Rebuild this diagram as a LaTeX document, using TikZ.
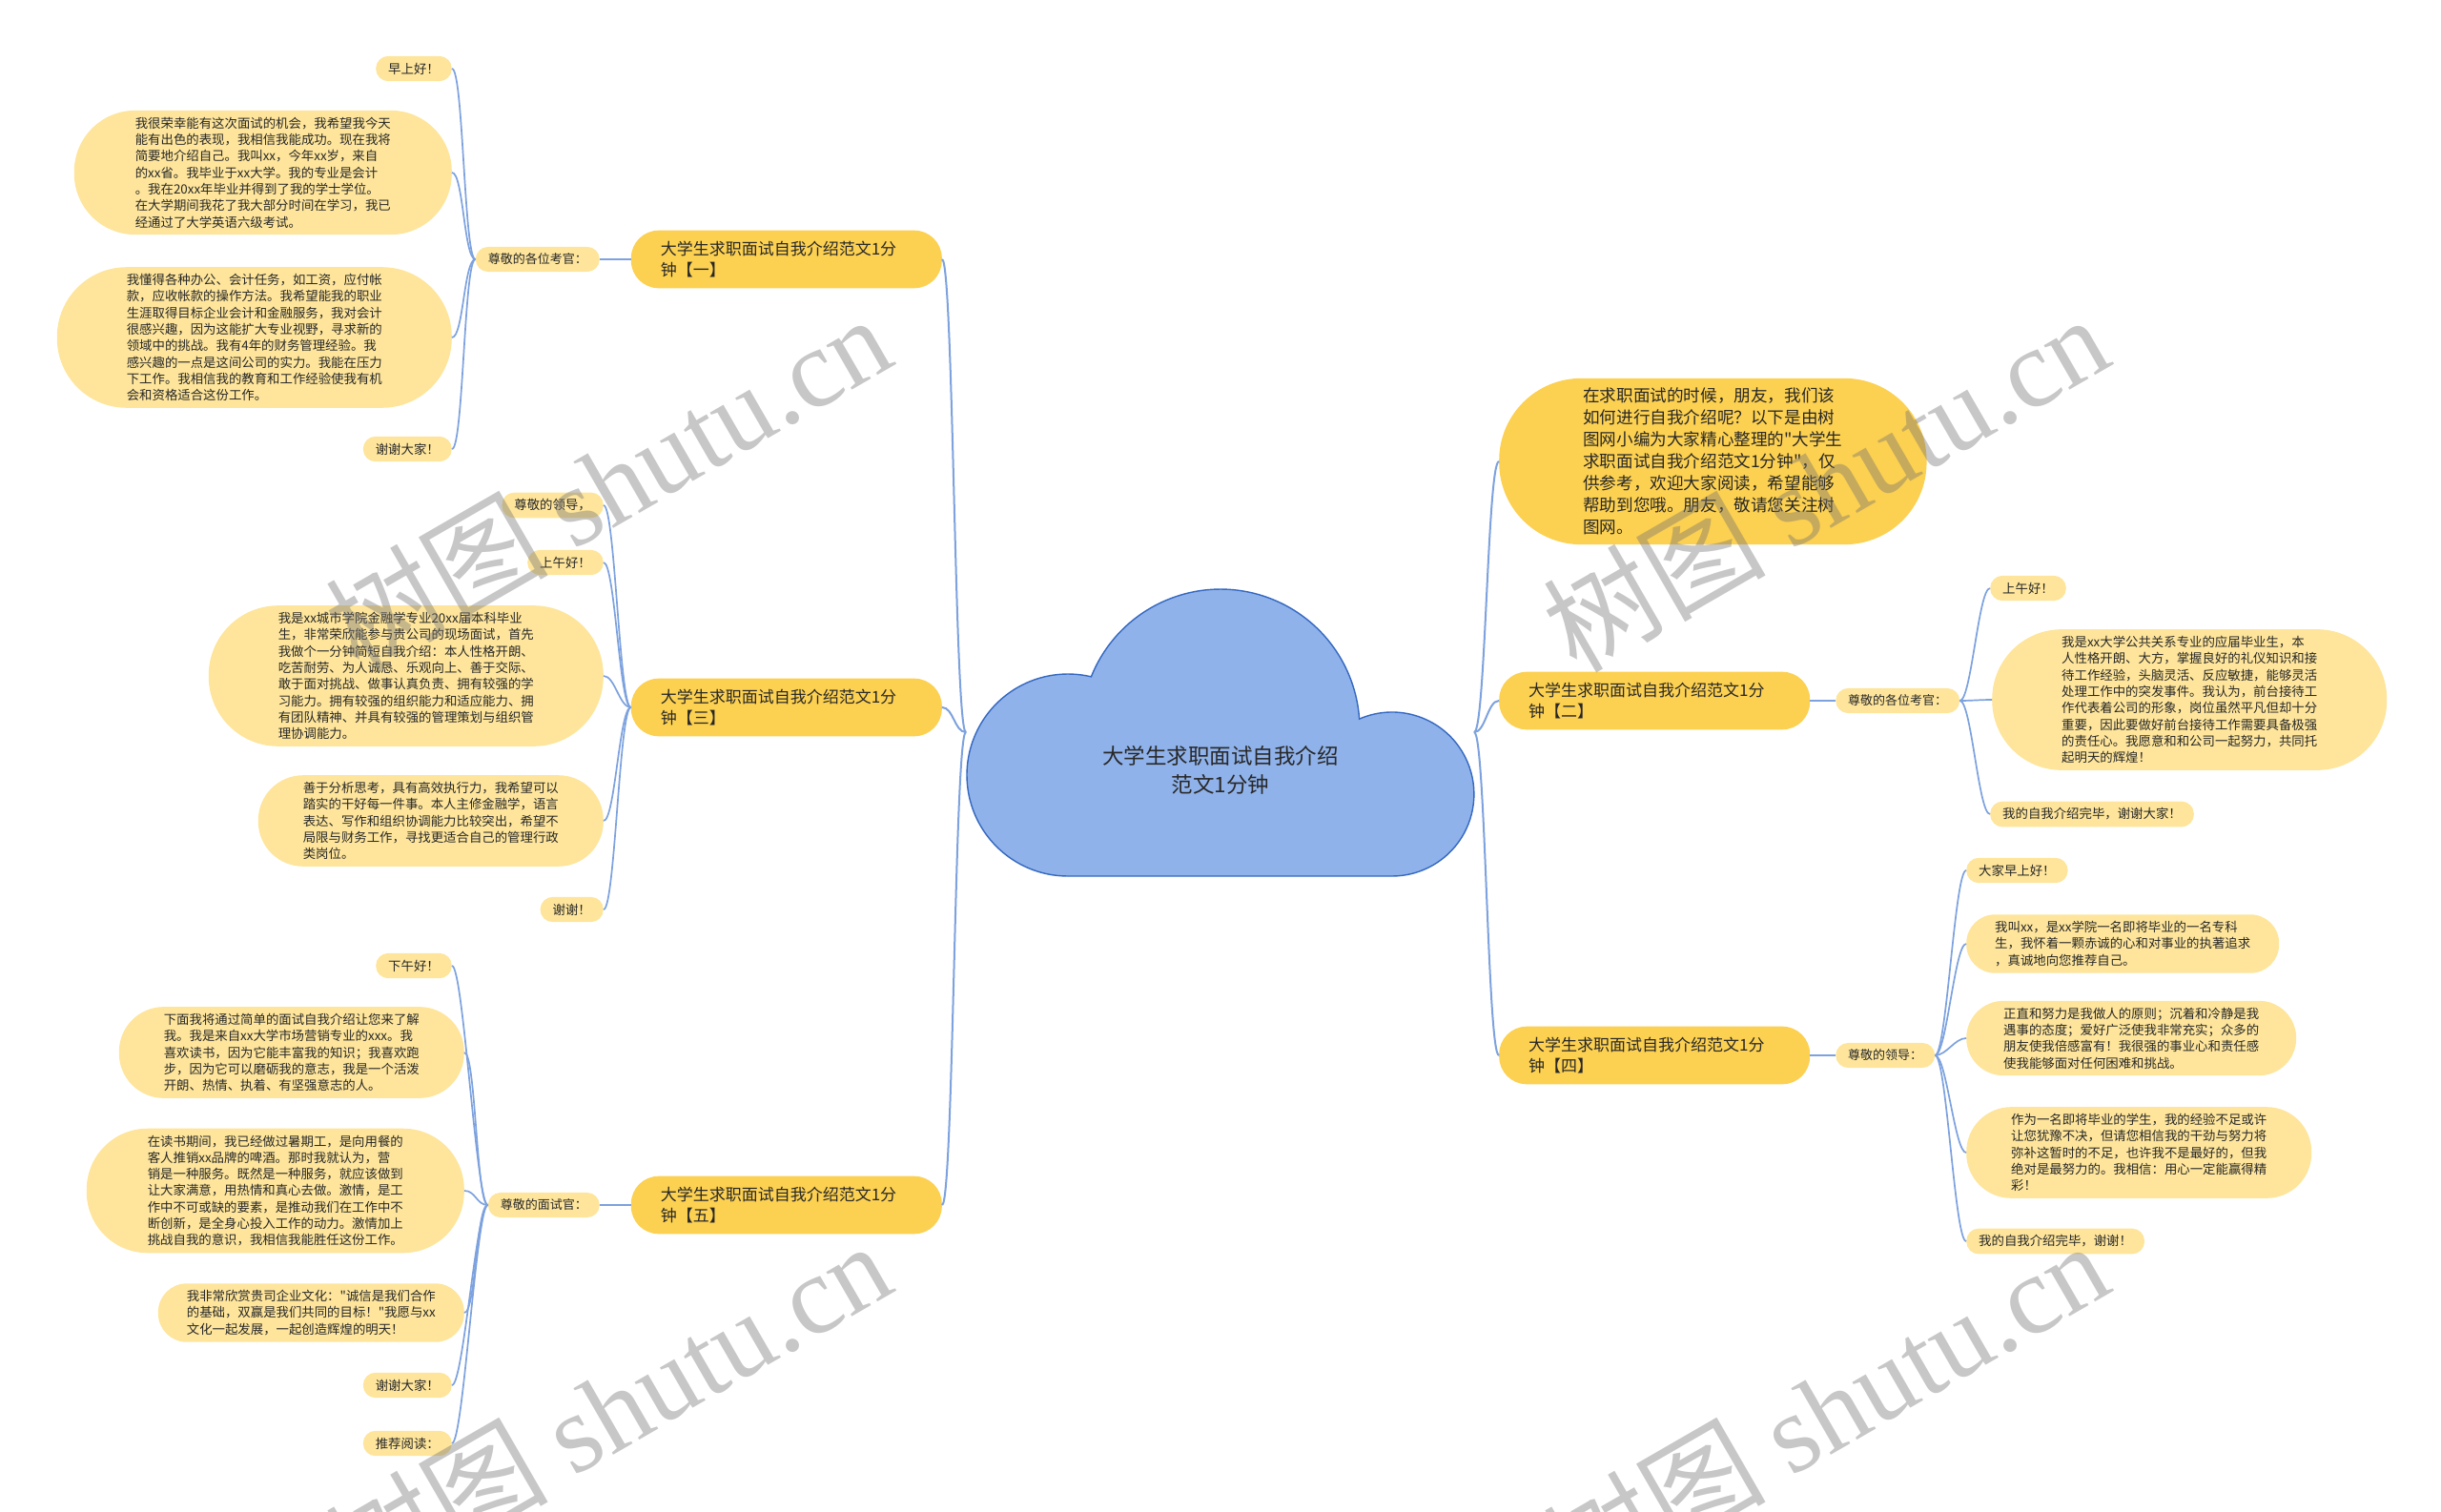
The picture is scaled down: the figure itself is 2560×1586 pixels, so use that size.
\documentclass[tikz,border=0pt]{standalone}
\usepackage{fontspec}
\setmainfont{Noto Sans CJK SC}[Ligatures=TeXOff]
\newfontfamily\wmfont{Liberation Serif}

\definecolor{cloudfill}{RGB}{143,178,234}
\definecolor{cloudline}{RGB}{52,104,192}
\definecolor{topicfill}{RGB}{252,208,80}
\definecolor{leaffill}{RGB}{254,229,155}
\definecolor{linkblue}{RGB}{125,162,222}
\definecolor{ink}{RGB}{40,40,40}

\tikzstyle{roottext} = [align=center, text=ink, font=\fontsize{22.5}{30}\selectfont]
\tikzstyle{topic} = [rectangle, fill=topicfill, text=ink, align=left, text width=264pt, rounded corners=29pt, inner xsep=31pt, inner ysep=11.5pt, font=\fontsize{17}{21.7}\selectfont]
\tikzstyle{intro} = [rectangle, fill=topicfill, text=ink, align=left, rounded corners=86pt, inner xsep=88pt, inner ysep=10pt, font=\fontsize{17.6}{23}\selectfont]
\tikzstyle{subtopic} = [rectangle, fill=leaffill, text=ink, rounded corners=13pt, inner xsep=13pt, inner ysep=7pt, font=\fontsize{13}{17}\selectfont]
\tikzstyle{leaf} = [rectangle, fill=leaffill, text=ink, align=left, inner ysep=7pt, font=\fontsize{13.4}{17.3}\selectfont]
\tikzset{note/.style={leaf, inner xsep=#1, rounded corners=#1}}
\tikzstyle{link} = [draw=linkblue, line width=2pt]
\tikzstyle{twig} = [draw=linkblue, line width=1.7pt]
\tikzstyle{watermark} = [text=black!55, opacity=0.4, rotate=30, font=\fontsize{117}{117}\selectfont]

\begin{document}
\begin{tikzpicture}[x=1pt, y=1pt]
\useasboundingbox (0,0) rectangle (2560,-1586);

\filldraw[fill=cloudfill, draw=cloudline, line width=1.4pt]
    (1120,-919) arc[start angle=270, end angle=76.7, radius=106]
    arc[start angle=158.2, end angle=3.9, radius=146]
    arc[start angle=113.5, end angle=-90, radius=86] -- cycle;
\node[roottext] (root) at (1280,-808) {大学生求职面试自我介绍\\范文1分钟};
\coordinate (rootL) at (1013,-768);
\coordinate (rootR) at (1546,-768);

\node[topic, anchor=east] (b1) at (988,-272) {大学生求职面试自我介绍范文1分\\钟【一】};
\node[topic, anchor=east] (b3) at (988,-742) {大学生求职面试自我介绍范文1分\\钟【三】};
\node[topic, anchor=east] (b5) at (988,-1264) {大学生求职面试自我介绍范文1分\\钟【五】};
\node[intro, anchor=west] (intro) at (1572,-484) {在求职面试的时候，朋友，我们该\\如何进行自我介绍呢？以下是由树\\图网小编为大家精心整理的"大学生\\求职面试自我介绍范文1分钟"，仅\\供参考，欢迎大家阅读，希望能够\\帮助到您哦。朋友，敬请您关注树\\图网。};
\node[topic, anchor=west] (b2) at (1572,-735) {大学生求职面试自我介绍范文1分\\钟【二】};
\node[topic, anchor=west] (b4) at (1572,-1107) {大学生求职面试自我介绍范文1分\\钟【四】};

\node[subtopic, anchor=east] (s1) at (629,-272) {尊敬的各位考官：};
\node[subtopic, anchor=east] (s5) at (629,-1264) {尊敬的面试官：};
\node[subtopic, anchor=west] (s2) at (1925,-735) {尊敬的各位考官：};
\node[subtopic, anchor=west] (s4) at (1925,-1107) {尊敬的领导：};

\node[note=13pt, anchor=east] (a1) at (474,-72) {早上好！};
\node[note=64pt, anchor=east] (a2) at (474,-181) {我很荣幸能有这次面试的机会，我希望我今天\\能有出色的表现，我相信我能成功。现在我将\\简要地介绍自己。我叫xx，今年xx岁，来自\\的xx省。我毕业于xx大学。我的专业是会计\\。我在20xx年毕业并得到了我的学士学位。\\在大学期间我花了我大部分时间在学习，我已\\经通过了大学英语六级考试。};
\node[note=73pt, anchor=east] (a3) at (474,-354) {我懂得各种办公、会计任务，如工资，应付帐\\款，应收帐款的操作方法。我希望能我的职业\\生涯取得目标企业会计和金融服务，我对会计\\很感兴趣，因为这能扩大专业视野，寻求新的\\领域中的挑战。我有4年的财务管理经验。我\\感兴趣的一点是这间公司的实力。我能在压力\\下工作。我相信我的教育和工作经验使我有机\\会和资格适合这份工作。};
\node[note=13pt, anchor=east] (a4) at (474,-471) {谢谢大家！};

\node[note=13pt, anchor=east] (c1) at (633,-530) {尊敬的领导，};
\node[note=13pt, anchor=east] (c2) at (633,-590) {上午好！};
\node[note=73pt, anchor=east] (c3) at (633,-709) {我是xx城市学院金融学专业20xx届本科毕业\\生，非常荣欣能参与贵公司的现场面试，首先\\我做个一分钟简短自我介绍：本人性格开朗、\\吃苦耐劳、为人诚恳、乐观向上、善于交际、\\敢于面对挑战、做事认真负责、拥有较强的学\\习能力。拥有较强的组织能力和适应能力、拥\\有团队精神、并具有较强的管理策划与组织管\\理协调能力。};
\node[note=47pt, anchor=east] (c4) at (633,-861) {善于分析思考，具有高效执行力，我希望可以\\踏实的干好每一件事。本人主修金融学，语言\\表达、写作和组织协调能力比较突出，希望不\\局限与财务工作，寻找更适合自己的管理行政\\类岗位。};
\node[note=13pt, anchor=east] (c5) at (633,-954) {谢谢！};

\node[note=13pt, anchor=east] (e1) at (474,-1013) {下午好！};
\node[note=47pt, anchor=east] (e2) at (487,-1104) {下面我将通过简单的面试自我介绍让您来了解\\我。我是来自xx大学市场营销专业的xxx。我\\喜欢读书，因为它能丰富我的知识；我喜欢跑\\步，因为它可以磨砺我的意志，我是一个活泼\\开朗、热情、执着、有坚强意志的人。};
\node[note=64pt, anchor=east] (e3) at (487,-1249) {在读书期间，我已经做过暑期工，是向用餐的\\客人推销xx品牌的啤酒。那时我就认为，营\\销是一种服务。既然是一种服务，就应该做到\\让大家满意，用热情和真心去做。激情，是工\\作中不可或缺的要素，是推动我们在工作中不\\断创新，是全身心投入工作的动力。激情加上\\挑战自我的意识，我相信我能胜任这份工作。};
\node[note=30pt, anchor=east] (e4) at (487,-1377) {我非常欣赏贵司企业文化："诚信是我们合作\\的基础，双赢是我们共同的目标！"我愿与xx\\文化一起发展，一起创造辉煌的明天！};
\node[note=13pt, anchor=east] (e5) at (474,-1453) {谢谢大家！};
\node[note=13pt, anchor=east] (e6) at (474,-1514) {推荐阅读：};

\node[note=13pt, anchor=west] (d1) at (2087,-617) {上午好！};
\node[note=73pt, anchor=west] (d2) at (2089,-734) {我是xx大学公共关系专业的应届毕业生，本\\人性格开朗、大方，掌握良好的礼仪知识和接\\待工作经验，头脑灵活、反应敏捷，能够灵活\\处理工作中的突发事件。我认为，前台接待工\\作代表着公司的形象，岗位虽然平凡但却十分\\重要，因此要做好前台接待工作需要具备极强\\的责任心。我愿意和和公司一起努力，共同托\\起明天的辉煌！};
\node[note=13pt, anchor=west] (d3) at (2087,-854) {我的自我介绍完毕，谢谢大家！};

\node[note=13pt, anchor=west] (f1) at (2062,-913) {大家早上好！};
\node[note=30pt, anchor=west] (f2) at (2062,-990) {我叫xx，是xx学院一名即将毕业的一名专科\\生，我怀着一颗赤诚的心和对事业的执著追求\\，真诚地向您推荐自己。};
\node[note=39pt, anchor=west] (f3) at (2062,-1089) {正直和努力是我做人的原则；沉着和冷静是我\\遇事的态度；爱好广泛使我非常充实；众多的\\朋友使我倍感富有！我很强的事业心和责任感\\使我能够面对任何困难和挑战。};
\node[note=47pt, anchor=west] (f4) at (2062,-1209) {作为一名即将毕业的学生，我的经验不足或许\\让您犹豫不决，但请您相信我的干劲与努力将\\弥补这暂时的不足，也许我不是最好的，但我\\绝对是最努力的。我相信：用心一定能赢得精\\彩！};
\node[note=13pt, anchor=west] (f5) at (2062,-1302) {我的自我介绍完毕，谢谢！};

\foreach \b in {b1,b3,b5}
    \draw[link] (rootL) .. controls +(-12,0) and +(12,0) .. (\b.east);
\foreach \b in {intro,b2,b4}
    \draw[link] (rootR) .. controls +(12,0) and +(-12,0) .. (\b.west);
\draw[twig] (b1.west) -- (s1.east);
\draw[twig] (b5.west) -- (s5.east);
\draw[twig] (b2.east) -- (s2.west);
\draw[twig] (b4.east) -- (s4.west);
\foreach \l in {a1,a2,a3,a4}
    \draw[twig] (s1.west) .. controls +(-12,0) and +(12,0) .. (\l.east);
\foreach \l in {c1,c2,c3,c4,c5}
    \draw[twig] (b3.west) .. controls +(-12,0) and +(12,0) .. (\l.east);
\foreach \l in {e1,e2,e3,e4,e5,e6}
    \draw[twig] (s5.west) .. controls +(-12,0) and +(12,0) .. (\l.east);
\foreach \l in {d1,d2,d3}
    \draw[twig] (s2.east) .. controls +(12,0) and +(-12,0) .. (\l.west);
\foreach \l in {f1,f2,f3,f4,f5}
    \draw[twig] (s4.east) .. controls +(12,0) and +(-12,0) .. (\l.west);

\node[watermark] (wm1) at (637,-506) {树图 {\wmfont shutu.cn}};
\node[watermark] (wm2) at (1914,-506) {树图 {\wmfont shutu.cn}};
\node[watermark] (wm3) at (637,-1478) {树图 {\wmfont shutu.cn}};
\node[watermark] (wm4) at (1914,-1478) {树图 {\wmfont shutu.cn}};
\end{tikzpicture}
\end{document}
